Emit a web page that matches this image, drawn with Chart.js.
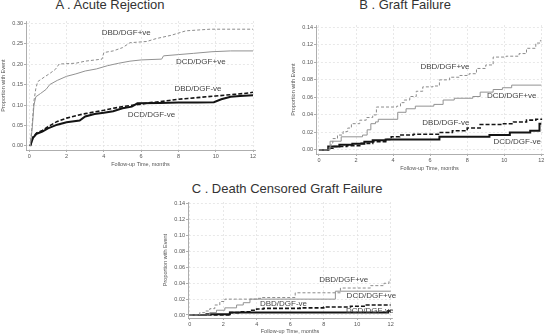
<!DOCTYPE html>
<html>
<head>
<meta charset="utf-8">
<script src="https://cdn.jsdelivr.net/npm/chart.js@4/dist/chart.umd.min.js"></script>
<style>
  body { margin: 0; width: 546px; height: 335px; position: relative; overflow: hidden; background: #fff;
         font-family: "Liberation Sans", Arial, sans-serif; }
  canvas { position: absolute; }
  .title { position: absolute; font-size: 13px; color: #333; white-space: nowrap; transform: translateX(-50%); }
</style>
</head>
<body>
<div class="title" style="left:110px;top:-3px">A . Acute Rejection</div>
<div class="title" style="left:405px;top:-3px">B . Graft Failure</div>
<div class="title" style="left:287px;top:181px">C . Death Censored Graft Failure</div>
<canvas id="chartA" width="273" height="170" style="left:0;top:0"></canvas>
<canvas id="chartB" width="273" height="172" style="left:273px;top:0"></canvas>
<canvas id="chartC" width="273" height="170" style="left:150px;top:165px"></canvas>
<script>
// ---- données (mois, proportion cumulée) ----
const MONTH_TICKS = [0, 2, 4, 6, 8, 10, 12];
const A_TICKS = [0, 0.05, 0.10, 0.15, 0.20, 0.25, 0.30];
const BC_TICKS = [0, 0.02, 0.04, 0.06, 0.08, 0.10, 0.12, 0.14];
const GROUPS = ['DBD/DGF+ve', 'DCD/DGF+ve', 'DBD/DGF-ve', 'DCD/DGF-ve'];

// A . Acute Rejection
const aDbdPosT = [0.05, 0.15, 0.25, 0.35, 0.45, 0.8, 1.1, 1.4, 1.6, 2.5, 3.0, 3.9, 4.0, 4.5, 5.0, 5.4, 6.3, 6.8, 7.6, 8.4, 9.7, 12];
const aDbdPosY = [0, 0.05, 0.11, 0.14, 0.157, 0.168, 0.177, 0.187, 0.2, 0.202, 0.207, 0.212, 0.228, 0.232, 0.24, 0.252, 0.255, 0.262, 0.27, 0.281, 0.285, 0.285];
const aDcdPosT = [0.05, 0.15, 0.25, 0.35, 0.6, 0.9, 1.1, 1.5, 2.0, 2.5, 3.0, 3.6, 4.2, 4.8, 5.4, 6.0, 7.1, 7.2, 8.0, 8.8, 9.8, 10.8, 12];
const aDcdPosY = [0, 0.04, 0.1, 0.12, 0.128, 0.138, 0.15, 0.16, 0.17, 0.176, 0.183, 0.188, 0.196, 0.202, 0.207, 0.21, 0.212, 0.22, 0.223, 0.226, 0.23, 0.232, 0.232];
const aDbdNegT = [0.05, 0.2, 0.4, 0.7, 1.0, 1.5, 2.0, 2.5, 3.0, 3.5, 4.0, 4.5, 5.0, 5.5, 6.0, 6.5, 7.0, 7.5, 8.0, 8.5, 9.0, 9.5, 10.0, 10.5, 11.0, 11.5, 12];
const aDbdNegY = [0, 0.022, 0.032, 0.038, 0.047, 0.06, 0.068, 0.074, 0.079, 0.083, 0.087, 0.092, 0.096, 0.099, 0.102, 0.106, 0.108, 0.111, 0.114, 0.116, 0.118, 0.12, 0.122, 0.124, 0.126, 0.128, 0.131];
const aDcdNegT = [0.05, 0.2, 0.4, 0.7, 1.0, 1.5, 2.0, 2.7, 3.0, 3.5, 4.0, 4.5, 5.0, 5.5, 5.8, 7.0, 8.0, 9.0, 9.9, 10.3, 10.8, 11.3, 12];
const aDcdNegY = [0, 0.02, 0.03, 0.035, 0.043, 0.052, 0.058, 0.062, 0.072, 0.078, 0.081, 0.085, 0.092, 0.096, 0.104, 0.105, 0.106, 0.106, 0.107, 0.114, 0.12, 0.122, 0.124];

// B . Graft Failure
const bDbdPosT = [0, 0.55, 0.65, 0.75, 1.0, 1.3, 1.55, 1.75, 2.2, 2.55, 2.9, 3.1, 4.2, 4.4, 4.6, 4.9, 5.25, 5.6, 6.15, 6.5, 7.05, 7.6, 8.1, 8.5, 9.0, 9.4, 10.1, 10.8, 11.2, 11.7, 11.95, 12];
const bDbdPosY = [0, 0.004, 0.008, 0.013, 0.017, 0.021, 0.025, 0.030, 0.034, 0.037, 0.040, 0.049, 0.050, 0.054, 0.057, 0.061, 0.067, 0.072, 0.073, 0.080, 0.083, 0.085, 0.087, 0.093, 0.097, 0.106, 0.107, 0.110, 0.116, 0.122, 0.125, 0.125];
const bDcdPosT = [0, 0.6, 1.2, 2.35, 2.6, 2.8, 3.05, 3.2, 4.25, 4.7, 5.2, 6.2, 6.7, 7.3, 8.3, 8.7, 9.4, 9.9, 10.4, 12];
const bDcdPosY = [0, 0.010, 0.015, 0.017, 0.023, 0.030, 0.032, 0.035, 0.043, 0.047, 0.050, 0.052, 0.057, 0.059, 0.061, 0.066, 0.069, 0.071, 0.074, 0.074];
const bDbdNegT = [0, 0.5, 0.75, 1.5, 2.2, 2.9, 3.6, 3.9, 4.35, 5.1, 6.5, 7.2, 8.0, 8.7, 9.9, 10.5, 11.2, 11.7, 12];
const bDbdNegY = [0, 0.002, 0.004, 0.005, 0.0075, 0.0095, 0.012, 0.015, 0.017, 0.018, 0.020, 0.022, 0.025, 0.029, 0.030, 0.032, 0.034, 0.035, 0.036];
const bDcdNegT = [0, 0.5, 1.1, 1.8, 2.45, 2.9, 3.6, 6.5, 9.2, 10.3, 11.4, 11.9, 12];
const bDcdNegY = [0, 0.004, 0.006, 0.007, 0.0095, 0.011, 0.012, 0.015, 0.017, 0.020, 0.022, 0.030, 0.030];

// C . Death Censored Graft Failure
const cDbdPosT = [0, 0.6, 0.9, 1.2, 1.5, 1.8, 2.1, 4.0, 4.3, 6.3, 9.0, 10.8, 11.6, 11.9, 12];
const cDbdPosY = [0, 0.003, 0.005, 0.008, 0.0126, 0.017, 0.020, 0.021, 0.022, 0.028, 0.034, 0.037, 0.040, 0.044, 0.044];
const cDcdPosT = [0, 1.2, 1.6, 2.1, 2.8, 3.2, 3.6, 8.7, 12];
const cDcdPosY = [0, 0.003, 0.006, 0.009, 0.0126, 0.0155, 0.020, 0.030, 0.030];
const cDbdNegT = [0, 2.4, 3.0, 3.6, 4.0, 4.4, 6.6, 8.0, 9.6, 10.55, 12];
const cDbdNegY = [0, 0.003, 0.004, 0.006, 0.0076, 0.0084, 0.009, 0.010, 0.011, 0.0126, 0.0126];
const cDcdNegT = [0, 1.0, 2.4, 11.85, 12];
const cDcdNegY = [0, 0.0008, 0.003, 0.005, 0.005];

// étiquettes des courbes (position en unités des axes)
const A_LABELS = [[5.2, 0.275], [9.2, 0.206], [9.05, 0.14], [6.55, 0.075]];
const B_LABELS = [[6.8, 0.095], [10.4, 0.062], [6.85, 0.031], [10.7, 0.0095]];
const C_LABELS = [[9.2, 0.044], [10.85, 0.024], [5.6, 0.0147], [10.75, 0.0055]];

// ---- styles ----
const LINE_STYLES = [
  { borderColor: '#8c8c8c', borderWidth: 1,   borderDash: [3, 2] },
  { borderColor: '#929292', borderWidth: 1,   borderDash: [] },
  { borderColor: '#141414', borderWidth: 1.6, borderDash: [4, 2] },
  { borderColor: '#141414', borderWidth: 2,   borderDash: [] },
];
const SMALL = { size: 5.5, family: '"Liberation Sans", Arial, sans-serif' };
const GRID = { color: '#e2e2e2', tickColor: '#999', tickLength: 2, tickBorderDash: [], lineWidth: 0.8 };
const BORDER = { color: '#999', width: 0.8, dash: [2, 2] };

const curveLabels = {
  id: 'curveLabels',
  afterDatasetsDraw(chart, args, opts) {
    const { ctx, scales: { x, y } } = chart;
    ctx.save();
    ctx.font = '8px "Liberation Sans", Arial, sans-serif';
    ctx.fillStyle = '#444';
    ctx.textAlign = 'center';
    ctx.textBaseline = 'middle';
    opts.at.forEach(([vx, vy], i) => ctx.fillText(GROUPS[i], x.getPixelForValue(vx), y.getPixelForValue(vy)));
    ctx.restore();
  },
};

function renderPanel(id, p) {
  new Chart(document.getElementById(id), {
    type: 'line',
    data: {
      datasets: p.series.map(([t, v], i) => ({
        label: GROUPS[i],
        data: t.map((x, k) => ({ x, y: v[k] })),
        ...LINE_STYLES[i],
        stepped: p.stepped, tension: 0, pointRadius: 0, fill: false,
      })),
    },
    plugins: [curveLabels],
    options: {
      responsive: false, animation: false,
      layout: { padding: p.pad },
      plugins: { legend: { display: false }, tooltip: { enabled: false }, curveLabels: { at: p.labels } },
      scales: {
        x: {
          type: 'linear', min: p.x[0], max: p.x[1],
          afterBuildTicks: s => { s.ticks = MONTH_TICKS.map(value => ({ value })); },
          afterFit: s => { s.height = p.xh; },
          ticks: { font: SMALL, color: '#555', padding: 1, maxRotation: 0, autoSkip: false },
          grid: GRID, border: BORDER,
          title: { display: true, text: 'Follow-up Time, months', font: SMALL, color: '#555', padding: { top: 0, bottom: p.xtPad } },
        },
        y: {
          min: p.y[0], max: p.y[1],
          afterBuildTicks: s => { s.ticks = p.yTicks.map(value => ({ value })); },
          afterFit: s => { s.width = p.yw; },
          ticks: { font: SMALL, color: '#555', padding: 1, autoSkip: false, callback: v => v.toFixed(2) },
          grid: GRID, border: BORDER,
          title: { display: true, text: 'Proportion with Event', font: SMALL, color: '#555', padding: { top: p.ytPad, bottom: 0 } },
        },
      },
    },
  });
}

renderPanel('chartA', {
  series: [[aDbdPosT, aDbdPosY], [aDcdPosT, aDcdPosY], [aDbdNegT, aDbdNegY], [aDcdNegT, aDcdNegY]],
  stepped: false, labels: A_LABELS, yTicks: A_TICKS,
  x: [-0.177, 12.107], y: [-0.0098, 0.305],
  pad: { top: 21, right: 18, left: 0, bottom: 0 }, yw: 26, xh: 20, ytPad: 0, xtPad: 2.5,
});
renderPanel('chartB', {
  series: [[bDbdPosT, bDbdPosY], [bDcdPosT, bDcdPosY], [bDbdNegT, bDbdNegY], [bDcdNegT, bDcdNegY]],
  stepped: 'before', labels: B_LABELS, yTicks: BC_TICKS,
  x: [-0.16, 12.09], y: [-0.0046, 0.1426],
  pad: { top: 25, right: 3, left: 0, bottom: 0 }, yw: 43, xh: 18, ytPad: 17, xtPad: 0.5,
});
renderPanel('chartC', {
  series: [[cDbdPosT, cDbdPosY], [cDcdPosT, cDcdPosY], [cDbdNegT, cDbdNegY], [cDcdNegT, cDcdNegY]],
  stepped: 'before', labels: C_LABELS, yTicks: BC_TICKS,
  x: [-0.1, 12.08], y: [-0.0038, 0.1425],
  pad: { top: 37, right: 31, left: 0, bottom: 0 }, yw: 38, xh: 17, ytPad: 12, xtPad: 0,
});
</script>
</body>
</html>
